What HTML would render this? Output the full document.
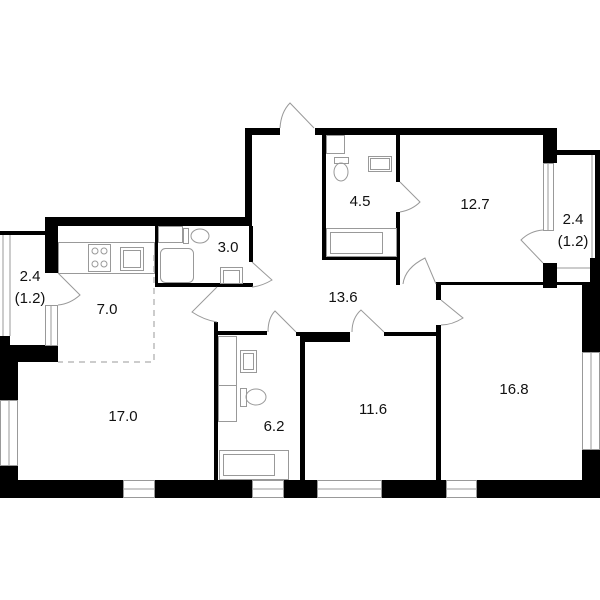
<!DOCTYPE html>
<html><head><meta charset="utf-8"><style>
html,body{margin:0;padding:0;background:#fff;}
svg{display:block;}
text{font-family:"Liberation Sans",sans-serif;font-size:15px;fill:#111;text-anchor:middle;}
</style></head><body>
<svg width="600" height="600" viewBox="0 0 600 600" xmlns="http://www.w3.org/2000/svg">
<g fill="#000">
<rect x="245" y="128" width="35" height="7"/>
<rect x="315" y="128" width="242" height="7"/>
<rect x="245" y="128" width="7" height="98"/>
<rect x="543" y="128" width="14" height="35"/>
<rect x="543" y="263" width="14" height="25"/>
<rect x="557" y="150" width="43" height="5"/>
<rect x="595" y="155" width="5" height="103"/>
<rect x="590" y="258" width="10" height="95"/>
<rect x="582" y="285" width="18" height="67"/>
<rect x="582" y="450" width="18" height="48"/>
<rect x="322" y="135" width="4" height="125"/>
<rect x="322" y="257" width="76" height="3"/>
<rect x="396" y="135" width="4" height="47"/>
<rect x="396" y="212" width="4" height="73"/>
<rect x="436" y="282" width="154" height="3"/>
<rect x="436" y="282" width="5" height="18"/>
<rect x="436" y="325" width="5" height="155"/>
<rect x="45" y="217" width="207" height="9"/>
<rect x="45" y="217" width="13" height="56"/>
<rect x="0" y="231" width="45" height="4"/>
<rect x="0" y="336" width="10" height="10"/>
<rect x="0" y="345" width="58" height="17"/>
<rect x="0" y="362" width="18" height="38"/>
<rect x="0" y="465" width="18" height="33"/>
<rect x="155" y="226" width="3" height="61"/>
<rect x="155" y="283" width="98" height="4"/>
<rect x="249" y="226" width="4" height="36"/>
<rect x="214" y="322" width="4" height="158"/>
<rect x="217" y="331" width="50" height="4"/>
<rect x="296" y="332" width="54" height="4"/>
<rect x="300" y="332" width="50" height="10"/>
<rect x="384" y="332" width="53" height="4"/>
<rect x="300" y="332" width="5" height="148"/>
<rect x="0" y="480" width="123" height="18"/>
<rect x="155" y="480" width="97" height="18"/>
<rect x="284" y="480" width="33" height="18"/>
<rect x="382" y="480" width="64" height="18"/>
<rect x="477" y="480" width="123" height="18"/>
</g>
<g fill="none" stroke="#999" stroke-width="1">
<rect x="123.5" y="480.5" width="31" height="17"/><line x1="123" y1="489" x2="155" y2="489"/>
<rect x="252.5" y="480.5" width="31" height="17"/><line x1="252" y1="489" x2="284" y2="489"/>
<rect x="317.5" y="480.5" width="64" height="17"/><line x1="317" y1="489" x2="382" y2="489"/>
<rect x="446.5" y="480.5" width="30" height="17"/><line x1="446" y1="489" x2="477" y2="489"/>
<rect x="0.5" y="400.5" width="17" height="65"/><line x1="9" y1="400" x2="9" y2="466"/>
<rect x="582.5" y="352.5" width="17" height="97"/><line x1="591" y1="352" x2="591" y2="450"/>
<rect x="45.5" y="305.5" width="12" height="40"/><line x1="51" y1="305" x2="51" y2="345"/>
<rect x="543.5" y="163.5" width="10" height="67"/><line x1="548" y1="163" x2="548" y2="230"/>
<line x1="3" y1="235" x2="3" y2="336"/><line x1="10" y1="235" x2="10" y2="336"/>
<line x1="592" y1="155" x2="592" y2="258"/>
<line x1="557" y1="268" x2="590" y2="268"/>
<path d="M314 128 L290 103 Q281 112 280 128"/>
<path d="M252 262 L272 280 Q262 286 252 287"/>
<path d="M217 287 L192 312 Q204 320 217 322"/>
<path d="M58 273 L80 295 Q70 304 58 305"/>
<path d="M296 332 L275 311 Q268 318 268 332"/>
<path d="M384 332 L361 310 Q352 318 352 332"/>
<path d="M400 182 L420 202 Q412 210 400 212"/>
<path d="M436 284 L425 258 Q405 268 403 284"/>
<path d="M441 300 L463 318 Q452 325 441 325"/>
<path d="M543 263 L521 240 Q530 231 543 230"/>
<path d="M154 255 V362 H58" stroke-dasharray="6,5"/>
<rect x="58.5" y="242.5" width="96" height="31"/>
<rect x="88.5" y="244.5" width="22" height="27"/>
<circle cx="95" cy="251" r="3"/><circle cx="104" cy="251" r="3"/>
<circle cx="95" cy="264" r="3"/><circle cx="104" cy="264" r="3"/>
<rect x="120.5" y="247.5" width="23" height="23"/><rect x="123.5" y="250.5" width="17" height="17"/>
<rect x="158.5" y="226.5" width="24" height="16"/>
<rect x="160.5" y="248.5" width="33" height="34" rx="5"/>
<rect x="183.5" y="228.5" width="5" height="15"/>
<ellipse cx="200" cy="236" rx="9" ry="7"/>
<rect x="220.5" y="267.5" width="22" height="16"/><rect x="223.5" y="270.5" width="16" height="13"/>
<rect x="326.5" y="135.5" width="18" height="18"/>
<ellipse cx="341" cy="172" rx="7" ry="9"/>
<rect x="334.5" y="157.5" width="14" height="6"/>
<rect x="368.5" y="156.5" width="23" height="15"/><rect x="370.5" y="158.5" width="19" height="11"/>
<rect x="326.5" y="228.5" width="70" height="28"/><rect x="330.5" y="232.5" width="52" height="21"/>
<rect x="218.5" y="336.5" width="18" height="49"/>
<rect x="218.5" y="385.5" width="18" height="36"/>
<rect x="240.5" y="350.5" width="16" height="22"/><rect x="243.5" y="353.5" width="10" height="16"/>
<rect x="240.5" y="388.5" width="6" height="18"/>
<ellipse cx="256" cy="397" rx="10" ry="8"/>
<rect x="219.5" y="450.5" width="69" height="29"/><rect x="223.5" y="454.5" width="51" height="21"/>
</g>
<text x="30" y="281">2.4</text>
<text x="30" y="303">(1.2)</text>
<text x="107" y="314">7.0</text>
<text x="228" y="252">3.0</text>
<text x="360" y="206">4.5</text>
<text x="475" y="209">12.7</text>
<text x="573" y="224">2.4</text>
<text x="573" y="246">(1.2)</text>
<text x="343" y="302">13.6</text>
<text x="123" y="421">17.0</text>
<text x="274" y="431">6.2</text>
<text x="373" y="414">11.6</text>
<text x="514" y="394">16.8</text>
</svg>
</body></html>
